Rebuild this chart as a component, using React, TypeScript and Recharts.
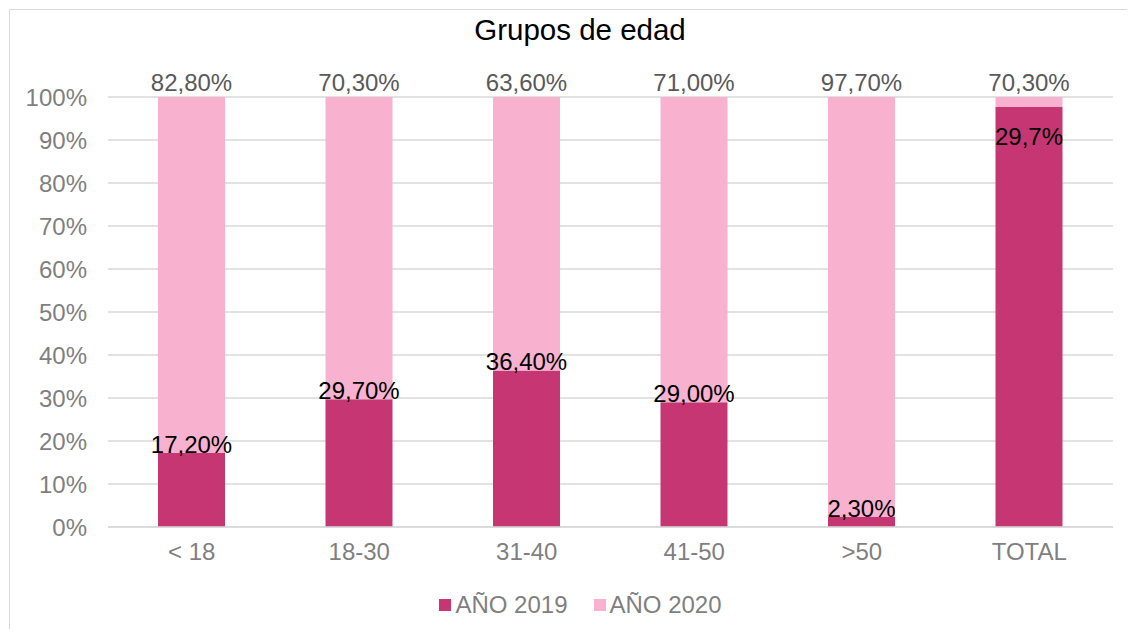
import React from "react";
import { BarChart, Bar, XAxis, YAxis, Legend, CartesianGrid, LabelList } from "recharts";

const categories = ["< 18", "18-30", "31-40", "41-50", ">50", "TOTAL"];
const year2019 = [17.2, 29.7, 36.4, 29.0, 2.3, 97.7];
const year2020 = [82.8, 70.3, 63.6, 71.0, 97.7, 2.3];
const labels2019 = ["17,20%", "29,70%", "36,40%", "29,00%", "2,30%", "29,7%"];
const labels2020 = ["82,80%", "70,30%", "63,60%", "71,00%", "97,70%", "70,30%"];
const yTicks = [0, 10, 20, 30, 40, 50, 60, 70, 80, 90, 100];

const data = categories.map((name, i) => ({
  name,
  y2019: year2019[i],
  y2020: year2020[i],
  l2019: labels2019[i],
  l2020: labels2020[i],
}));

const DARK = "#C63672";
const LIGHT = "#F8B2CF";
const FONT = "'Liberation Sans', Arial, sans-serif";

const Label2019 = (props: any) => {
  const { x, y, width, index } = props;
  const inside = year2019[index] > 90;
  const cy = inside ? y + 29 : y - 9;
  return (
    <text x={x + width / 2} y={cy} dy="0.36em" textAnchor="middle" fill="#000" fontSize={24} fontFamily={FONT}>
      {labels2019[index]}
    </text>
  );
};

const Label2020 = (props: any) => {
  const { x, y, width, index } = props;
  return (
    <text x={x + width / 2} y={y - 15} dy="0.36em" textAnchor="middle" fill="#595959" fontSize={24} fontFamily={FONT}>
      {labels2020[index]}
    </text>
  );
};

const LegendContent = (props: any) => {
  const { payload } = props;
  return (
    <div style={{ display: "flex", justifyContent: "center", paddingLeft: 40, gap: 26 }}>
      {payload.map((p: any) => (
        <div key={p.value} style={{ display: "flex", alignItems: "center", gap: 4 }}>
          <span style={{ width: 12, height: 12, background: p.color, display: "inline-block" }} />
          <span style={{ color: "#7f7f7f", fontSize: 24, fontFamily: FONT }}>{p.value}</span>
        </div>
      ))}
    </div>
  );
};

const App = () => {
  return (
    <div style={{ position: "relative", margin: -8, width: 1135, height: 637, overflow: "hidden", background: "#fff", fontFamily: FONT }}>
      <div style={{ position: "absolute", left: 9, top: 9, width: 1122, height: 640, border: "1.5px solid #d9d9d9", boxSizing: "border-box" }} />
      <div style={{ position: "absolute", left: 0, width: 1160, top: 13, textAlign: "center", fontSize: 29.5, color: "#000" }}>
        Grupos de edad
      </div>
      <BarChart
        width={1135}
        height={637}
        data={data}
        barSize={67}
        margin={{ top: 97, right: 22, left: 8, bottom: 18 }}
        style={{ position: "absolute", left: 0, top: 0 }}
      >
        <CartesianGrid stroke="#d9d9d9" strokeWidth={1.5} vertical={false} />
        <XAxis
          dataKey="name"
          height={50}
          tickLine={false}
          axisLine={{ stroke: "#d9d9d9", strokeWidth: 1.5 }}
          tick={{ fill: "#7f7f7f", fontSize: 24, fontFamily: FONT }}
          tickMargin={10}
        />
        <YAxis
          width={100}
          domain={[0, 100]}
          ticks={yTicks}
          tickFormatter={(v) => `${v}%`}
          tickLine={false}
          axisLine={false}
          tickMargin={15}
          tick={{ fill: "#7f7f7f", fontSize: 24, fontFamily: FONT }}
        />
        <Legend content={LegendContent} wrapperStyle={{ paddingTop: 14 }} />
        <Bar dataKey="y2019" name="AÑO 2019" stackId="a" fill={DARK} isAnimationActive={false}>
          <LabelList dataKey="l2019" content={Label2019} />
        </Bar>
        <Bar dataKey="y2020" name="AÑO 2020" stackId="a" fill={LIGHT} isAnimationActive={false}>
          <LabelList dataKey="l2020" content={Label2020} />
        </Bar>
      </BarChart>
    </div>
  );
};

export default App;
